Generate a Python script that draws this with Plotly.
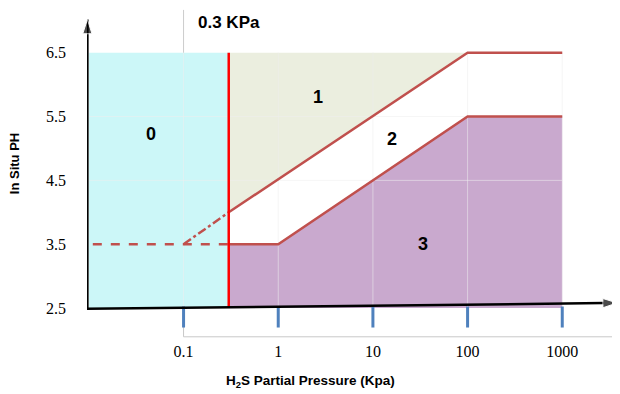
import plotly.graph_objects as go
import math

# ---- data ----
ph_ticks = [2.5, 3.5, 4.5, 5.5, 6.5]
ph_labels = ["2.5", "3.5", "4.5", "5.5", "6.5"]
p_ticks = [0.1, 1, 10, 100, 1000]
p_labels = ["0.1", "1", "10", "100", "1000"]

p_min = 0.01
p_boundary = 0.3          # 0.3 KPa limit
ph_min, ph_max = 2.5, 6.5

# upper boundary (region 1 / 2)
upper_p = [0.3, 100, 1000]
upper_ph = [4.0, 6.5, 6.5]
# lower boundary (region 2 / 3)
lower_p = [0.3, 1, 100, 1000]
lower_ph = [3.5, 3.5, 5.5, 5.5]
# dashed extensions into region 0
dash_h_p = [0.011, 0.3]
dash_h_ph = [3.5, 3.5]
dash_d_p = [0.1, 0.3]
dash_d_ph = [3.5, 4.0]

region_labels = ["0", "1", "2", "3"]
region_p = [0.045, 2.6, 16, 34]
region_ph = [5.22, 5.8, 5.15, 3.5]

BLUE = "#ccf7f8"
GREEN = "#ebeedf"
PURPLE = "#c9a9ce"
LINE = "#c0504d"
TICK = "#4f81bd"

lg = math.log10
fig = go.Figure()

# region 0 (blue)
fig.add_trace(go.Scatter(
    x=[p_min, p_boundary, p_boundary, p_min, p_min],
    y=[ph_min, ph_min, ph_max, ph_max, ph_min],
    fill="toself", fillcolor=BLUE, mode="none", hoverinfo="skip"))
# region 1 (green)
fig.add_trace(go.Scatter(
    x=[upper_p[0], upper_p[1], upper_p[0], upper_p[0]],
    y=[upper_ph[0], upper_ph[1], ph_max, upper_ph[0]],
    fill="toself", fillcolor=GREEN, mode="none", hoverinfo="skip"))
# region 3 (purple)
fig.add_trace(go.Scatter(
    x=lower_p + [lower_p[-1], lower_p[0], lower_p[0]],
    y=lower_ph + [ph_min, ph_min, lower_ph[0]],
    fill="toself", fillcolor=PURPLE, mode="none", hoverinfo="skip"))

# faint gridlines drawn over fills
grid_col = "rgba(238,238,238,0.55)"
for v in p_ticks:
    fig.add_trace(go.Scatter(x=[v, v], y=[ph_min, ph_max], mode="lines",
                             line=dict(color=grid_col, width=1), hoverinfo="skip"))
for h in [4.5, 5.5]:
    fig.add_trace(go.Scatter(x=[p_min, 1000], y=[h, h], mode="lines",
                             line=dict(color=grid_col, width=1), hoverinfo="skip"))
# gray leftovers of the original chart frame
fig.add_trace(go.Scatter(x=[0.1, 0.1], y=[ph_max, 7.17], mode="lines",
                         line=dict(color="#cccccc", width=1), hoverinfo="skip", cliponaxis=False))
fig.add_trace(go.Scatter(x=[0.1, 0.1, 10 ** 3.61], y=[2.36, 2.05, 2.05], mode="lines",
                         line=dict(color="#c8c8c8", width=1), hoverinfo="skip", cliponaxis=False))

# boundary lines
fig.add_trace(go.Scatter(x=upper_p, y=upper_ph, mode="lines",
                         line=dict(color=LINE, width=2.5), hoverinfo="skip"))
fig.add_trace(go.Scatter(x=lower_p, y=lower_ph, mode="lines",
                         line=dict(color=LINE, width=2.5), hoverinfo="skip"))
fig.add_trace(go.Scatter(x=dash_h_p, y=dash_h_ph, mode="lines",
                         line=dict(color=LINE, width=2.5, dash="dash"), hoverinfo="skip"))
fig.add_trace(go.Scatter(x=dash_d_p, y=dash_d_ph, mode="lines",
                         line=dict(color=LINE, width=2.5, dash="dashdot"), hoverinfo="skip"))
# 0.3 KPa red limit
fig.add_trace(go.Scatter(x=[p_boundary, p_boundary], y=[ph_min, ph_max], mode="lines",
                         line=dict(color="#ff0000", width=2.5), hoverinfo="skip"))

# blue tick marks
fig.add_trace(go.Scatter(x=[10 ** -2.06] * len(ph_ticks), y=ph_ticks, mode="markers",
                         marker=dict(symbol="line-ew", size=14, line=dict(color=TICK, width=3)),
                         hoverinfo="skip", cliponaxis=False))
fig.add_trace(go.Scatter(x=p_ticks, y=[2.36] * len(p_ticks), mode="markers",
                         marker=dict(symbol="line-ns", size=15, line=dict(color=TICK, width=3)),
                         hoverinfo="skip", cliponaxis=False))

# hand-drawn style axes with arrowheads
fig.add_trace(go.Scatter(x=[10 ** -2.016, 10 ** -2.016], y=[2.47, 7.02], mode="lines+markers",
                         line=dict(color="black", width=2.5),
                         marker=dict(symbol="arrow", size=[0, 15], angleref="previous", color="black"),
                         hoverinfo="skip", cliponaxis=False))
fig.add_trace(go.Scatter(x=[10 ** -2.03, 10 ** 3.58], y=[2.49, 2.58], mode="lines+markers",
                         line=dict(color="black", width=2.5),
                         marker=dict(symbol="arrow", size=[0, 15], angleref="previous", color="black"),
                         hoverinfo="skip", cliponaxis=False))

annotations = []
# region labels
for t, p, h in zip(region_labels, region_p, region_ph):
    annotations.append(dict(x=lg(p), y=h, xref="x", yref="y", text="<b>%s</b>" % t,
                            showarrow=False, font=dict(family="Liberation Sans", size=18, color="black")))
# 0.3 KPa label
annotations.append(dict(x=lg(0.3), y=6.98, xref="x", yref="y", text="<b>0.3 KPa</b>",
                        showarrow=False, font=dict(family="Liberation Sans", size=17, color="black")))
# axis titles (page pixel positions)
annotations.append(dict(x=15, y=164, xref="paper", yref="paper", text="<b>In Situ PH</b>",
                        textangle=-90, showarrow=False, xanchor="center", yanchor="middle",
                        font=dict(family="Liberation Sans", size=13, color="black")))
annotations.append(dict(x=310, y=382, xref="paper", yref="paper",
                        text="<b>H<sub>2</sub>S Partial Pressure (Kpa)</b>",
                        showarrow=False, xanchor="center", yanchor="middle",
                        font=dict(family="Liberation Sans", size=13.5, color="black")))

# page has an 8px body margin: figure shifted accordingly
OFF = 8
L, R, T, B = 86.7 - OFF, 0.0, 0.0, 53.7
W, H = 620 - OFF, 394 - OFF
pw, ph = W - L - R, H - T - B
for a in annotations:
    if a.get("xref") == "paper":
        a["x"] = (a["x"] - OFF - L) / pw
        a["y"] = (H - B - (a["y"] - OFF)) / ph

fig.update_layout(
    width=W, height=H,
    margin=dict(l=L, r=R, t=T, b=B),
    paper_bgcolor="white", plot_bgcolor="white",
    showlegend=False,
    annotations=annotations,
    xaxis=dict(type="log", range=[-2.02, 3.61], showgrid=False, zeroline=False,
               showline=False, tickvals=p_ticks, ticktext=p_labels, ticks="",
               tickfont=dict(family="Liberation Serif", size=16, color="black"),
               ticklabelstandoff=0),
    yaxis=dict(range=[2.0, 7.2], showgrid=False, zeroline=False, showline=False,
               tickvals=ph_ticks, ticktext=ph_labels, ticks="",
               tickfont=dict(family="Liberation Serif", size=16, color="black"),
               ticklabelstandoff=20),
)

fig.write_html("out.html")
